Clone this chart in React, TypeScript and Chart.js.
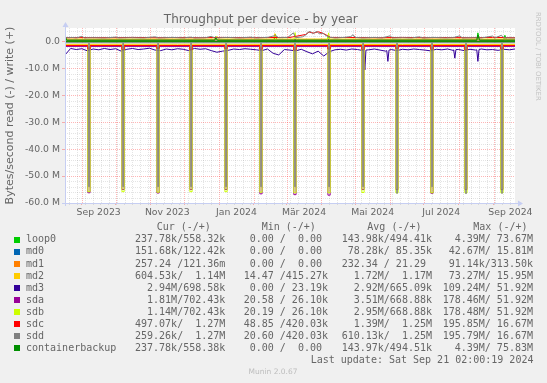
import React, { useEffect, useRef } from "react";
import { Chart, registerables } from "chart.js";

Chart.register(...registerables);

// ---------- axes (x = days since the start of the 400-day window, Aug 17 2023 02:00) ----------
const X_MIN = 0;
const X_MAX = 400;
const monthStartDays = [14.92, 44.92, 75.92, 105.92, 136.92, 167.92, 196.92, 227.92, 257.92, 288.92, 318.92, 349.92, 380.92];
const firstMondayDay = 3.92;
const xTickLabels = ["Sep 2023", "Nov 2023", "Jan 2024", "Mär 2024", "Mai 2024", "Jul 2024", "Sep 2024"];
const xLabelDays = [29.92, 90.92, 152.42, 212.42, 273.42, 334.42, 395.92];

const Y_MIN = -60;
const Y_MAX = 5;
const yTickValues = [0, -10, -20, -30, -40, -50, -60];
const yTickLabels = ["0.0", "-10.0 M", "-20.0 M", "-30.0 M", "-40.0 M", "-50.0 M", "-60.0 M"];
const yMinorStep = 2;

// ---------- series (M bytes/s, read negative, write positive) ----------
const seriesNames = ["loop0", "md0", "md1", "md2", "md3", "sda", "sdb", "sdc", "sdd", "containerbackup"];
const seriesColors = ["#00CC00", "#0066B3", "#FF8000", "#FFCC00", "#330099", "#990099", "#CCFF00", "#FF0000", "#808080", "#008F00"];

const loop0ReadDays = [0, 400];
const loop0Read = [-0.05, -0.05];
const loop0WriteDays = [0, 1.5, 133, 134, 135.5, 186, 187, 188.5, 233, 234, 235.5, 366, 367, 368.5, 390, 391, 392.5, 400];
const loop0Write = [2.5, 0.5, 0.5, 1.8, 0.5, 0.5, 2.6, 0.5, 0.5, 1.9, 0.5, 0.5, 3.2, 0.5, 0.5, 2.3, 0.5, 0.5];

const md0ReadDays = [0, 400];
const md0Read = [-0.1, -0.1];
const md0WriteDays = [0, 400];
const md0Write = [0.05, 0.05];

const md1ReadDays = [0, 400];
const md1Read = [0, 0];
const md1WriteDays = [0, 400];
const md1Write = [0, 0];

const md2ReadDays = [0, 100, 200, 300, 400];
const md2Read = [-1.1, -1.05, -1.1, -1.15, -1.1];
const md2WriteDays = [0, 134, 135, 136.5, 185.5, 186.5, 187.5, 400];
const md2Write = [0.9, 0.9, 1.9, 0.9, 0.9, 2.9, 0.9, 0.9];

const md3GridDays = [
  0, 5, 10, 15, 20, 25, 30, 35, 40, 45, 50, 55, 60, 65, 70, 75, 80, 85, 90, 95,
  100, 105, 110, 115, 120, 125, 130, 135, 140, 145, 150, 155, 160, 165, 170, 175, 180, 185, 190, 195,
  200, 205, 210, 215, 220, 225, 230, 235, 240, 245, 250, 255, 260, 265, 270, 275, 280, 285, 290, 295,
  300, 305, 310, 315, 320, 325, 330, 335, 340, 345, 350, 355, 360, 365, 370, 375, 380, 385, 390, 395, 400,
];
const md3Read = [
  -5.0, -2.6, -3.0, -2.7, -3.5, -2.8, -3.1, -2.6, -3.0, -2.7, -3.6, -2.9, -2.6, -3.0, -2.8, -2.5, -3.2, -3.4, -2.8, -3.1,
  -2.7, -2.9, -3.4, -2.6, -2.9, -2.7, -3.4, -4.0, -3.6, -3.3, -2.8, -3.0, -2.7, -2.9, -3.1, -3.4, -2.8, -4.4, -5.0, -3.0,
  -3.2, -3.5, -2.9, -3.8, -4.6, -3.6, -5.4, -3.8, -3.1, -2.9, -3.2, -2.8, -3.0, -3.4, -3.1, -2.8, -3.2, -3.6, -3.0, -3.4,
  -2.9, -3.1, -2.8, -3.0, -3.2, -3.5, -2.9, -3.1, -2.8, -3.3, -3.0, -3.4, -2.9, -3.2, -2.8, -3.1, -3.0, -3.3, -2.9, -3.1, -2.8,
];
const md3DipDays = [265.5, 266.5, 267.5, 286, 287, 288, 345.5, 346.5, 347.5, 366, 367, 368];
const md3DipRead = [-3.3, -10.6, -3.2, -3.4, -7.4, -3.2, -3.1, -6.2, -3.0, -3.1, -7.4, -3.0];
const md3WriteDays = [0, 400];
const md3Write = [0.6, 0.6];

// monthly RAID check (big read spikes on the disks), day at which each spike starts
const raidCheckDays = [20.3, 50.6, 81.7, 111.0, 142.1, 173.2, 203.4, 233.7, 263.9, 294.1, 325.2, 355.4, 387.4];
const sdaReadBase = -1.85;
const sdaCheckRead = [-56.2, -55.0, -56.3, -55.0, -55.0, -56.6, -56.9, -57.1, -55.0, -55.0, -56.4, -55.0, -55.0];
const sdbReadBase = -1.5;
const sdbCheckRead = [-55.8, -55.8, -56.0, -55.8, -55.8, -56.0, -56.2, -56.2, -56.1, -56.2, -56.2, -56.2, -56.2];
const sdcReadBase = -1.5;
const sdcCheckRead = [-2.8, -3.0, -2.6, -3.1, -2.7, -2.9, -3.2, -2.8, -3.0, -2.7, -2.9, -3.1, -2.8];
const sddReadBase = -0.5;
const sddCheckRead = [-54.0, -54.0, -54.0, -54.0, -54.0, -54.0, -54.0, -54.0, -54.0, -56.5, -54.0, -56.6, -56.5];

const sdaWriteDays = [0, 400];
const sdaWrite = [0.6, 0.6];
const sdbWriteDays = [0, 203.5, 204.5, 205.5, 233.3, 234.3, 235.3, 400];
const sdbWrite = [0.6, 0.6, 3.3, 0.6, 0.6, 3.2, 0.6, 0.6];
const sdcWriteDays = [0, 20, 40, 60, 80, 100, 120, 140, 160, 180, 200, 214, 217, 221, 225, 230, 236, 260, 280, 300, 320, 340, 360, 380, 400];
const sdcWrite = [1.4, 1.45, 1.4, 1.5, 1.4, 1.45, 1.4, 1.5, 1.4, 1.45, 1.5, 2.6, 3.5, 3.1, 3.6, 2.9, 1.5, 1.45, 1.4, 1.5, 1.4, 1.45, 1.4, 1.5, 1.4];
const sddWriteDays = [
  0, 6, 10, 15, 17, 25, 35, 45, 48, 58, 70, 80, 83, 95, 105, 112, 115, 125, 130, 133, 145, 155, 165, 170, 180, 187, 190, 198,
  203, 205, 211, 214, 216, 218, 220, 222, 224, 226, 229, 232, 235, 240, 248, 254, 256, 258, 265, 275, 282, 289, 291, 300,
  308, 315, 318, 328, 338, 345, 351, 353, 362, 370, 380, 382, 388, 390, 396, 400,
];
const sddWrite = [
  1.3, 1.5, 1.3, 1.9, 1.3, 1.4, 1.3, 1.6, 1.3, 1.4, 1.3, 1.7, 1.3, 1.5, 1.3, 1.6, 1.3, 1.4, 1.9, 1.3, 1.5, 1.3, 1.6, 1.3, 1.5, 2.2, 1.4, 1.5,
  3.2, 1.4, 1.7, 2.4, 3.4, 3.7, 2.9, 3.3, 3.7, 2.8, 3.1, 2.2, 1.6, 1.3, 1.5, 1.8, 2.5, 1.5, 1.3, 1.5, 1.3, 2.1, 1.3, 1.4,
  1.3, 1.7, 1.3, 1.5, 1.3, 1.4, 2.1, 1.3, 1.4, 1.3, 2.0, 1.3, 2.3, 1.4, 1.3, 1.3,
];

const cbReadDays = [0, 400];
const cbRead = [-0.05, -0.05];
const cbWriteDays = [0, 1.5, 133, 134, 135.5, 366, 367, 368.5, 400];
const cbWrite = [2.0, 0.45, 0.45, 1.3, 0.45, 0.45, 2.4, 0.45, 0.45];

// ---------- legend table ----------
const legendHeaders = ["Cur (-/+)", "Min (-/+)", "Avg (-/+)", "Max (-/+)"];
const curValues = ["237.78k/558.32k", "151.68k/122.42k", "257.24 /121.36m", "604.53k/  1.14M", "  2.94M/698.58k", "  1.81M/702.43k", "  1.14M/702.43k", "497.07k/  1.27M", "259.26k/  1.27M", "237.78k/558.38k"];
const minValues = ["  0.00 /  0.00 ", "  0.00 /  0.00 ", "  0.00 /  0.00 ", " 14.47 /415.27k", "  0.00 / 23.19k", " 20.58 / 26.10k", " 20.19 / 26.10k", " 48.85 /420.03k", " 20.60 /420.03k", "  0.00 /  0.00 "];
const avgValues = ["143.98k/494.41k", " 78.28k/ 85.35k", "232.34 / 21.29 ", "  1.72M/  1.17M", "  2.92M/665.09k", "  3.51M/668.88k", "  2.95M/668.88k", "  1.39M/  1.25M", "610.13k/  1.25M", "143.97k/494.51k"];
const maxValues = ["  4.39M/ 73.67M", " 42.67M/ 15.81M", " 91.14k/313.50k", " 73.27M/ 15.95M", "109.24M/ 51.92M", "178.46M/ 51.92M", "178.48M/ 51.92M", "195.85M/ 16.67M", "195.79M/ 16.67M", "  4.39M/ 75.83M"];
const lastUpdateText = "Last update: Sat Sep 21 02:00:19 2024";
const titleText = "Throughput per device - by year";
const yAxisTitle = "Bytes/second read (-) / write (+)";

// ---------- layout ----------
const W = 547;
const H = 383;
const PLOT_LEFT = 65;
const PLOT_RIGHT = 515;
const PLOT_TOP = 28;
const PLOT_BOTTOM = 203;
const X_AXIS_H = 20;
const FONT = "'DejaVu Sans', sans-serif";
const MONO = "'DejaVu Sans Mono', monospace";
const TEXT_COLOR = "#666666";
const MGRID = "rgba(255, 40, 40, 0.34)";
const GRID = "rgba(120, 120, 120, 0.2)";
const AXIS_COLOR = "#C6CEF2";

function pts(days: number[], vals: number[]) {
  return days.map((d, i) => ({ x: d, y: vals[i] }));
}
function mergePts(a: { x: number; y: number }[], b: { x: number; y: number }[]) {
  return [...a, ...b].sort((p, q) => p.x - q.x);
}
function withChecks(base: number, depths: number[], start: number, width: number) {
  const out = [{ x: X_MIN, y: base }];
  raidCheckDays.forEach((d, i) => {
    out.push({ x: d + start, y: depths[i] });
    out.push({ x: d + start + width, y: base });
  });
  out.push({ x: X_MAX, y: base });
  return out;
}

type Kind = "month" | "week" | "label";
const xTickMap = new Map<number, { value: number; kinds: Set<Kind>; label: string }>();
function addXTick(v: number, kind: Kind, label = "") {
  const key = Math.round(v * 100);
  let t = xTickMap.get(key);
  if (!t) {
    t = { value: v, kinds: new Set(), label: "" };
    xTickMap.set(key, t);
  }
  t.kinds.add(kind);
  if (label) t.label = label;
}
for (let d = firstMondayDay; d <= X_MAX; d += 7) addXTick(Math.round(d * 100) / 100, "week");
monthStartDays.forEach((d) => addXTick(d, "month"));
xLabelDays.forEach((d, i) => addXTick(d, "label", xTickLabels[i]));
const xTicks = Array.from(xTickMap.values()).sort((a, b) => a.value - b.value);

const yTicks: number[] = [];
for (let v = Y_MIN; v < Y_MAX; v += yMinorStep) yTicks.push(v);

function xKind(v: number): "month" | "week" | "none" {
  const t = xTickMap.get(Math.round(v * 100));
  if (!t) return "none";
  if (t.kinds.has("month")) return "month";
  if (t.kinds.has("week")) return "week";
  return "none";
}

const bgPlugin = {
  id: "plotBg",
  beforeDraw(chart: any) {
    const { ctx, chartArea } = chart;
    ctx.save();
    ctx.fillStyle = "#FFFFFF";
    ctx.fillRect(chartArea.left, chartArea.top, chartArea.right - chartArea.left, chartArea.bottom - chartArea.top);
    ctx.restore();
  },
};

// dotted munin grid, placed through the chart's scales
const gridPlugin = {
  id: "muninGrid",
  beforeDatasetsDraw(chart: any) {
    const { ctx, chartArea } = chart;
    const xs = chart.scales.x;
    const ys = chart.scales.y;
    ctx.save();
    ctx.lineWidth = 1;
    ctx.setLineDash([1, 1]);
    const vline = (v: number, color: string) => {
      const px = Math.round(xs.getPixelForValue(v)) + 0.5;
      ctx.strokeStyle = color;
      ctx.beginPath();
      ctx.moveTo(px, chartArea.top);
      ctx.lineTo(px, chartArea.bottom);
      ctx.stroke();
    };
    const hline = (v: number, color: string) => {
      const py = Math.round(ys.getPixelForValue(v)) + 0.5;
      ctx.strokeStyle = color;
      ctx.beginPath();
      ctx.moveTo(chartArea.left, py);
      ctx.lineTo(chartArea.right, py);
      ctx.stroke();
    };
    yTicks.forEach((v) => {
      if (!yTickValues.includes(v)) hline(v, GRID);
    });
    xTicks.forEach((t) => {
      if (xKind(t.value) === "week") vline(t.value, GRID);
    });
    yTicks.forEach((v) => {
      if (yTickValues.includes(v)) hline(v, MGRID);
    });
    xTicks.forEach((t) => {
      if (xKind(t.value) === "month") vline(t.value, MGRID);
    });
    ctx.restore();
  },
};

const axesPlugin = {
  id: "muninAxes",
  afterDraw(chart: any) {
    const { ctx, chartArea } = chart;
    const x0 = Math.round(chartArea.left) + 0.5;
    const y0 = Math.round(chartArea.bottom) + 0.5;
    ctx.save();
    ctx.strokeStyle = AXIS_COLOR;
    ctx.fillStyle = AXIS_COLOR;
    ctx.lineWidth = 1;
    ctx.beginPath();
    ctx.moveTo(chartArea.left - 3, y0);
    ctx.lineTo(chartArea.right + 3, y0);
    ctx.moveTo(x0, chartArea.bottom + 3);
    ctx.lineTo(x0, chartArea.top - 1);
    ctx.stroke();
    ctx.beginPath();
    ctx.moveTo(chartArea.right + 3, y0 - 3);
    ctx.lineTo(chartArea.right + 8, y0);
    ctx.lineTo(chartArea.right + 3, y0 + 3);
    ctx.closePath();
    ctx.fill();
    ctx.beginPath();
    ctx.moveTo(x0 - 3, chartArea.top - 1);
    ctx.lineTo(x0, chartArea.top - 6);
    ctx.lineTo(x0 + 3, chartArea.top - 1);
    ctx.closePath();
    ctx.fill();
    ctx.restore();
  },
};

function buildDatasets() {
  const reads = [
    pts(loop0ReadDays, loop0Read),
    pts(md0ReadDays, md0Read),
    pts(md1ReadDays, md1Read),
    pts(md2ReadDays, md2Read),
    mergePts(pts(md3GridDays, md3Read), pts(md3DipDays, md3DipRead)),
    withChecks(sdaReadBase, sdaCheckRead, 0, 2),
    withChecks(sdbReadBase, sdbCheckRead, 0, 2),
    withChecks(sdcReadBase, sdcCheckRead, 0, 2),
    withChecks(sddReadBase, sddCheckRead, 1.0, 0.1),
    pts(cbReadDays, cbRead),
  ];
  const readStepped = [false, false, false, false, false, true, true, true, true, false];
  const writes = [
    pts(loop0WriteDays, loop0Write),
    pts(md0WriteDays, md0Write),
    pts(md1WriteDays, md1Write),
    pts(md2WriteDays, md2Write),
    pts(md3WriteDays, md3Write),
    pts(sdaWriteDays, sdaWrite),
    pts(sdbWriteDays, sdbWrite),
    pts(sdcWriteDays, sdcWrite),
    pts(sddWriteDays, sddWrite),
    pts(cbWriteDays, cbWrite),
  ];
  const ds: any[] = [];
  seriesNames.forEach((name, i) => {
    ds.push({ label: name + " read", data: reads[i], stepped: readStepped[i] });
    ds.push({ label: name + " write", data: writes[i], stepped: false });
  });
  return ds.map((d, idx) => ({
    ...d,
    borderColor: seriesColors[Math.floor(idx / 2)],
    backgroundColor: seriesColors[Math.floor(idx / 2)],
    borderWidth: 1,
    pointRadius: 0,
    fill: false,
    tension: 0,
    order: -idx,
  }));
}

function Txt(props: { x: number; baseline: number; size: number; family: string; color: string; text: string; align?: "left" | "center" }) {
  const { x, baseline, size, family, color, text, align = "left" } = props;
  const top = baseline - 0.846 * size;
  const style: React.CSSProperties = {
    position: "absolute",
    top,
    fontFamily: family,
    fontSize: size,
    lineHeight: `${size}px`,
    color,
    whiteSpace: "pre",
    margin: 0,
  };
  if (align === "center") {
    style.left = x - 200;
    style.width = 400;
    style.textAlign = "center";
  } else {
    style.left = x;
  }
  return <div style={style}>{text}</div>;
}

export default function App() {
  const ref = useRef<HTMLCanvasElement>(null);

  useEffect(() => {
    const canvas = ref.current;
    if (!canvas) return;
    Chart.defaults.font.family = FONT;
    const chart = new Chart(canvas, {
      type: "line",
      data: { datasets: buildDatasets() },
      plugins: [bgPlugin, gridPlugin, axesPlugin],
      options: {
        animation: false,
        responsive: false,
        devicePixelRatio: 1,
        events: [],
        layout: {
          padding: { left: 0, top: PLOT_TOP, right: W - PLOT_RIGHT, bottom: H - PLOT_BOTTOM - X_AXIS_H },
        },
        plugins: {
          legend: { display: false },
          title: { display: false },
          tooltip: { enabled: false },
        },
        scales: {
          x: {
            type: "linear",
            min: X_MIN,
            max: X_MAX,
            afterBuildTicks: (axis: any) => {
              axis.ticks = xTicks.map((t) => ({ value: t.value }));
            },
            afterFit: (axis: any) => {
              axis.height = X_AXIS_H;
            },
            ticks: {
              autoSkip: false,
              maxRotation: 0,
              minRotation: 0,
              padding: 2,
              color: TEXT_COLOR,
              font: { family: FONT, size: 9.3 },
              callback: (value: any) => {
                const t = xTickMap.get(Math.round(Number(value) * 100));
                return t ? t.label : "";
              },
            },
            grid: {
              drawOnChartArea: false,
              drawTicks: true,
              tickLength: 2,
              lineWidth: 1,
              tickColor: (ctx: any) => {
                const k = xKind(ctx.tick ? ctx.tick.value : NaN);
                return k === "month" ? MGRID : k === "week" ? GRID : "rgba(0,0,0,0)";
              },
            },
            border: { display: false },
          },
          y: {
            type: "linear",
            min: Y_MIN,
            max: Y_MAX,
            afterBuildTicks: (axis: any) => {
              axis.ticks = yTicks.map((v) => ({ value: v }));
            },
            afterFit: (axis: any) => {
              axis.width = PLOT_LEFT;
            },
            title: {
              display: true,
              text: yAxisTitle,
              color: TEXT_COLOR,
              font: { family: FONT, size: 11 },
              padding: { top: 4, bottom: 0 },
            },
            ticks: {
              autoSkip: false,
              padding: 2,
              color: TEXT_COLOR,
              font: { family: FONT, size: 9.3 },
              callback: (value: any) => {
                const i = yTickValues.indexOf(Number(value));
                return i >= 0 ? yTickLabels[i] : "";
              },
            },
            grid: {
              drawOnChartArea: false,
              drawTicks: true,
              tickLength: 3,
              lineWidth: 1,
              tickColor: (ctx: any) => {
                const v = ctx.tick ? ctx.tick.value : NaN;
                return yTickValues.includes(v) ? MGRID : "rgba(0,0,0,0)";
              },
            },
            border: { display: false },
          },
        },
      } as any,
    });
    return () => chart.destroy();
  }, []);

  const rowBase = (k: number) => 230.9 + 12.02 * k;
  const colStarts = [135, 237.7, 341.7, 442.7];
  const headerStarts = [156.7, 261.7, 367.3, 473.3];

  return (
    <div style={{ position: "fixed", left: 0, top: 0, width: W, height: H, background: "#F0F0F0", overflow: "hidden" }}>
      <canvas ref={ref} width={W} height={H} style={{ position: "absolute", left: 0, top: 0, width: W, height: H, display: "block" }} />
      <Txt x={260.8} baseline={23.3} size={12} family={FONT} color={TEXT_COLOR} text={titleText} align="center" />
      {legendHeaders.map((h, i) => (
        <Txt key={"h" + i} x={headerStarts[i]} baseline={rowBase(0)} size={10} family={MONO} color={TEXT_COLOR} text={h} />
      ))}
      {seriesNames.map((name, i) => {
        const b = rowBase(i + 1);
        return (
          <React.Fragment key={name}>
            <div style={{ position: "absolute", left: 14, top: b - 5.8, width: 6, height: 6, background: seriesColors[i] }} />
            <Txt x={26} baseline={b} size={10} family={MONO} color={TEXT_COLOR} text={name} />
            <Txt x={colStarts[0]} baseline={b} size={10} family={MONO} color={TEXT_COLOR} text={curValues[i]} />
            <Txt x={colStarts[1]} baseline={b} size={10} family={MONO} color={TEXT_COLOR} text={minValues[i]} />
            <Txt x={colStarts[2]} baseline={b} size={10} family={MONO} color={TEXT_COLOR} text={avgValues[i]} />
            <Txt x={colStarts[3]} baseline={b} size={10} family={MONO} color={TEXT_COLOR} text={maxValues[i]} />
          </React.Fragment>
        );
      })}
      <Txt x={310.7} baseline={rowBase(11)} size={10} family={MONO} color={TEXT_COLOR} text={lastUpdateText} />
      <Txt x={273} baseline={374.4} size={7.5} family={FONT} color="#BDBDBD" text="Munin 2.0.67" align="center" />
      <div
        style={{
          position: "absolute",
          left: 534,
          top: 12,
          width: 7,
          writingMode: "vertical-rl",
          fontFamily: FONT,
          fontSize: 6.9,
          lineHeight: "7px",
          color: "#C4C4C4",
          whiteSpace: "pre",
        }}
      >
        RRDTOOL / TOBI OETIKER
      </div>
    </div>
  );
}
